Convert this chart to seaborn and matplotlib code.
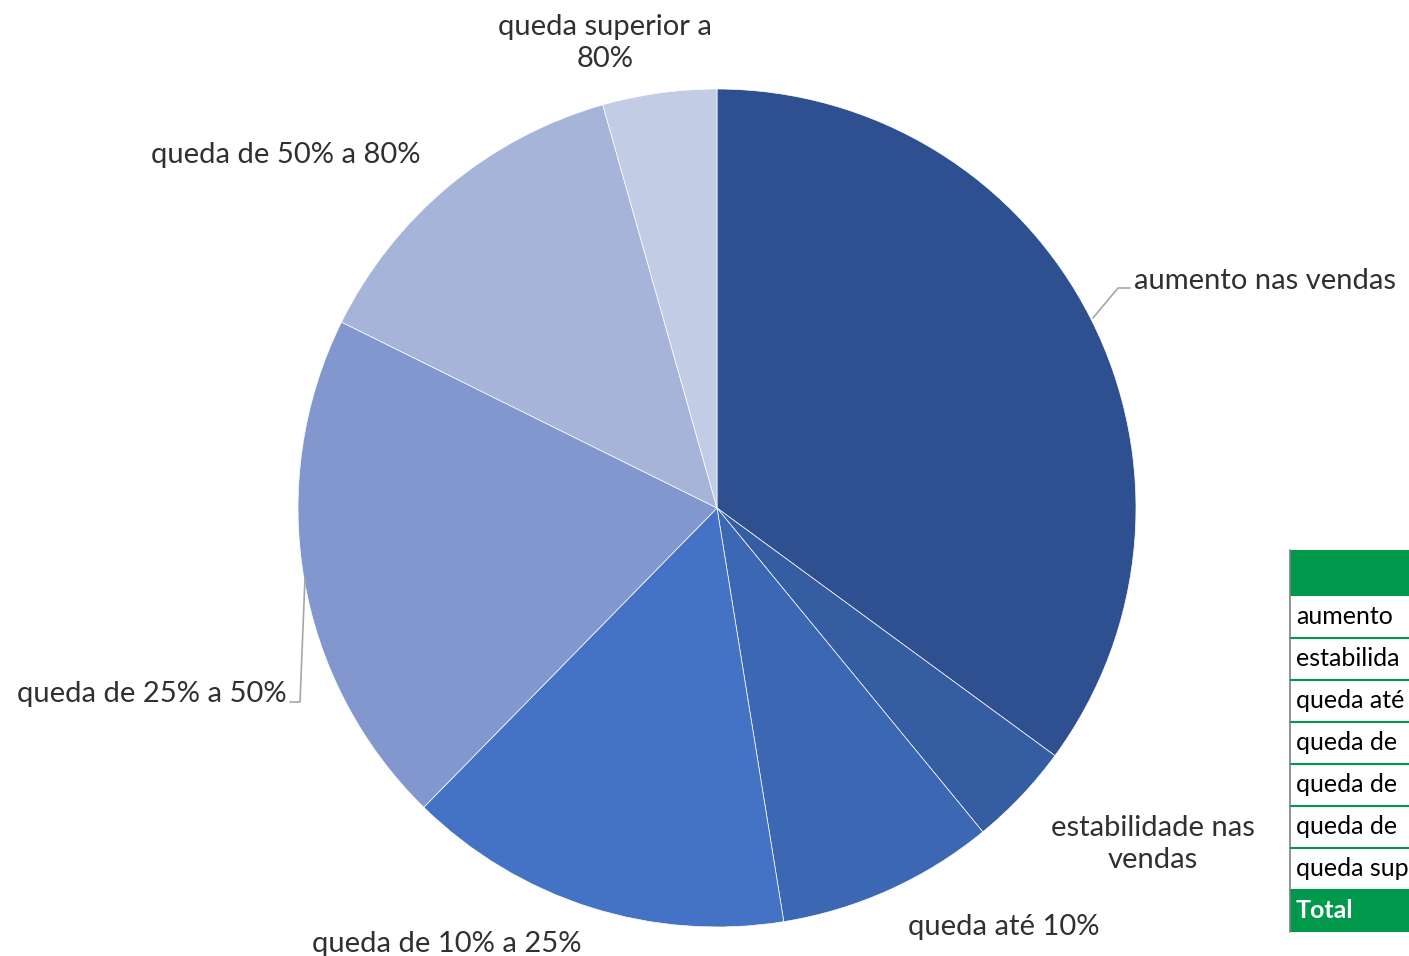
import matplotlib.pyplot as plt
import seaborn as sns
from matplotlib.patches import Rectangle

# dados
categorias = ["aumento nas vendas", "estabilidade nas vendas", "queda até 10%",
              "queda de 10% a 25%", "queda de 25% a 50%", "queda de 50% a 80%",
              "queda superior a 80%"]
valores = [35.1, 4.0, 8.4, 14.9, 20.0, 13.3, 4.4]
cores = ["#2F5090", "#355DA2", "#3C67B2", "#4472C4", "#8297CE", "#A7B4D9", "#C2CCE4"]
rotulos = ["aumento nas vendas", "estabilidade nas\nvendas", "queda até 10%",
           "queda de 10% a 25%", "queda de 25% a 50%", "queda de 50% a 80%",
           "queda superior a\n80%"]
# tabela cortada na borda direita (so o inicio aparece)
tabela_linhas = ["aumento", "estabilida", "queda até", "queda de", "queda de",
                 "queda de", "queda sup"]

sns.set_theme(style="white")
plt.rcParams['font.family'] = ['Lato', 'DejaVu Sans']

W, H = 1409, 956
fig = plt.figure(figsize=(W / 100, H / 100), dpi=100)
ax = fig.add_axes([0, 0, 1, 1])

def Y(y):
    return H - y

paleta = sns.color_palette(cores)
ax.pie(valores, colors=paleta, startangle=90, counterclock=False,
       center=(717, Y(508)), radius=419, frame=True,
       wedgeprops=dict(edgecolor='white', linewidth=0.5))
ax.set_xlim(0, W)
ax.set_ylim(0, H)
ax.set_aspect('equal')
ax.axis('off')

# rotulos
txt = dict(fontsize=21, fontweight='normal', color='#303030', linespacing=1.3)
pos = [(1134, 281, 'left'), (1153, 844, 'center'), (1004, 927, 'center'),
       (447, 944, 'center'), (287, 694, 'right'), (286, 155, 'center'),
       (605, 43, 'center')]
for r, (x, y, ha) in zip(rotulos, pos):
    ax.text(x, Y(y), r, ha=ha, va='center', **txt)

# linhas de chamada
ax.plot([1093, 1118, 1130], [Y(318), Y(288), Y(288)], color='#A6A6A6', lw=1.2)
ax.plot([305, 300, 290], [Y(578), Y(702), Y(702)], color='#A6A6A6', lw=1.2)

# tabela
verde = '#00994C'
x0, topo, alt = 1290, 550, 42
ax.add_patch(Rectangle((x0, Y(topo + 46)), 200, 46, color=verde, lw=0))
y = topo + 46
for c in tabela_linhas:
    ax.add_patch(Rectangle((x0, Y(y + alt)), 200, alt, facecolor='white', lw=0))
    ax.plot([x0, W], [Y(y + alt), Y(y + alt)], color=verde, lw=1.5)
    ax.text(x0 + 6, Y(y + alt / 2), c, ha='left', va='center', fontsize=18, color='black')
    y += alt
ax.add_patch(Rectangle((x0, Y(y + alt)), 200, alt, color=verde, lw=0))
ax.text(x0 + 6, Y(y + alt / 2), "Total", ha='left', va='center', fontsize=18,
        color='white', fontweight='bold')
ax.plot([x0, x0], [Y(topo), Y(y + alt)], color='#7F7F7F', lw=1.2)

plt.savefig('out.png', dpi=100)
